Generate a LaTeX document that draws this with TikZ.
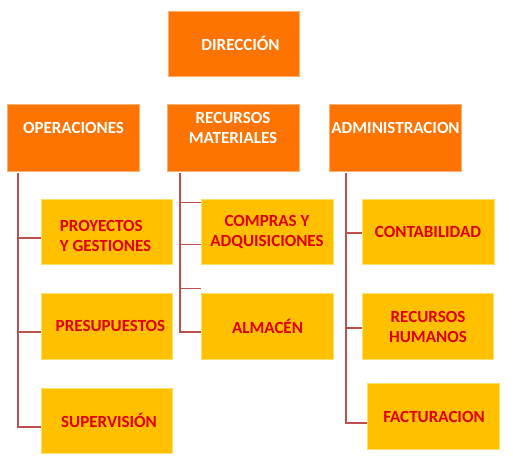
\documentclass[tikz,border=0pt]{standalone}
\usepackage{fontspec}
\setmainfont{Carlito}[BoldFont={Carlito Bold}]
\definecolor{orangebox}{HTML}{FF7300}
\definecolor{orangeedge}{HTML}{FFB070}
\definecolor{yellowbox}{HTML}{FFC000}
\definecolor{yellowedge}{HTML}{FFE066}
\definecolor{redtext}{HTML}{E00000}
\definecolor{connred}{HTML}{C0504D}
\tikzset{
  obox/.style={rectangle, fill=orangebox, draw=orangeedge, line width=1pt, inner sep=0pt},
  ybox/.style={rectangle, fill=yellowbox, draw=yellowedge, line width=1pt, inner sep=0pt},
  otext/.style={text=white, font=\bfseries\fontsize{17}{20}\selectfont, align=center, inner sep=0pt},
  ytext/.style={text=redtext, font=\bfseries\fontsize{17}{20}\selectfont, align=center, inner sep=0pt},
  conn/.style={draw=connred, line width=1.8pt},
  thin conn/.style={draw=connred, line width=1pt}
}
\begin{document}
\begin{tikzpicture}[x=1pt,y=-1pt]
\useasboundingbox (0,0) rectangle (513,466);
% orange boxes
\node[obox, minimum width=131pt, minimum height=65pt] (dir) at (233.5,43.5) {};
\node[otext] (dirt) at (240.5,43) {DIRECCIÓN};
\node[obox, minimum width=132pt, minimum height=67pt] (ops) at (73,137.5) {};
\node[otext] (opst) at (73.5,128) {OPERACIONES};
\node[obox, minimum width=132pt, minimum height=67pt] (rm) at (233,137.5) {};
\node[otext] (rmt) at (233,128) {RECURSOS\\MATERIALES};
\node[obox, minimum width=132pt, minimum height=67pt] (adm) at (395,137.5) {};
\node[otext] (admt) at (395.5,128) {ADMINISTRACION};
% yellow boxes, left column
\node[ybox, minimum width=131pt, minimum height=65pt] (proy) at (106.5,231.5) {};
\node[ytext, align=left] (proyt) at (105.5,236) {PROYECTOS\\Y GESTIONES};
\node[ybox, minimum width=131pt, minimum height=66pt] (pres) at (106.5,326) {};
\node[ytext] (prest) at (110.5,326) {PRESUPUESTOS};
\node[ybox, minimum width=131pt, minimum height=65pt] (sup) at (106.5,420.5) {};
\node[ytext] (supt) at (109,420) {SUPERVISIÓN};
% middle column
\node[ybox, minimum width=132pt, minimum height=65pt] (comp) at (267,231.5) {};
\node[ytext] (compt) at (267,232) {COMPRAS Y\\ADQUISICIONES};
\node[ybox, minimum width=132pt, minimum height=66pt] (alm) at (267,326) {};
\node[ytext] (almt) at (267.5,326) {ALMACÉN};
% right column
\node[ybox, minimum width=132pt, minimum height=65pt] (cont) at (428,231.5) {};
\node[ytext] (contt) at (428,232) {CONTABILIDAD};
\node[ybox, minimum width=131pt, minimum height=66pt] (rh) at (427.5,326) {};
\node[ytext] (rht) at (428,326.5) {RECURSOS\\HUMANOS};
\node[ybox, minimum width=132pt, minimum height=66pt] (fac) at (433,416) {};
\node[ytext] (fact) at (434,417) {FACTURACION};
% connector origins
\coordinate (opsO) at (18,173);
\coordinate (rmO) at (180,173);
\coordinate (admO) at (346,173);
% left tree
\draw[conn] (opsO) |- ([yshift=-6.5pt]proy.west);
\draw[conn] (opsO) |- ([yshift=-6pt]pres.west);
\draw[conn] (opsO) |- ([yshift=-6.5pt]sup.west);
% middle tree
\draw[conn] (rmO) |- ([yshift=-6pt]alm.west);
\draw[thin conn] (rmO) |- ([yshift=29.5pt]comp.west);
\draw[thin conn] (rmO) |- ([yshift=-12.5pt]comp.west);
\draw[thin conn] (rmO) |- ([yshift=38pt]alm.west);
% right tree
\draw[conn] (admO) |- ([yshift=-1.5pt]cont.west);
\draw[conn] (admO) |- ([yshift=-2pt]rh.west);
\draw[conn] (admO) |- ([yshift=-7pt]fac.west);
\end{tikzpicture}
\end{document}
